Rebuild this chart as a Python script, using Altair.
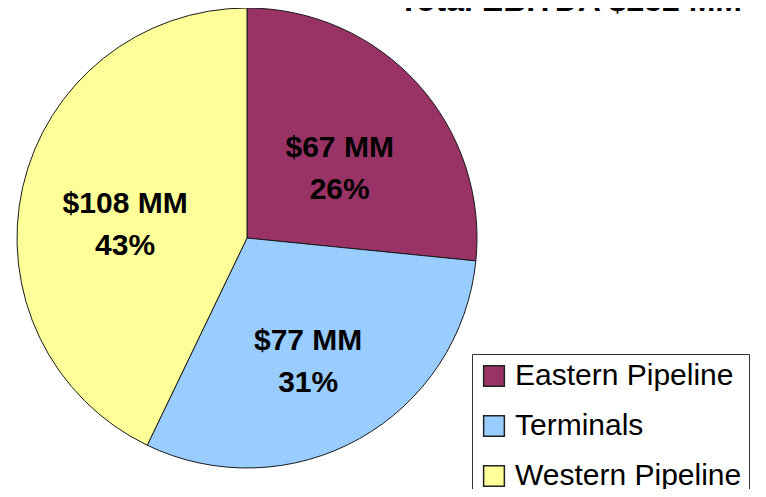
import altair as alt
import pandas as pd

segments = ["Eastern Pipeline", "Terminals", "Western Pipeline"]
ebitda_mm = [67, 77, 108]
percents = ["26%", "31%", "43%"]
colors = ["#993366", "#99CCFF", "#FFFF99"]
title_text = "Total EBITDA $252 MM"

df = pd.DataFrame({
    "segment": segments,
    "value": ebitda_mm,
    "order": list(range(len(segments))),
    "label": [f"${v} MM\n{p}" for v, p in zip(ebitda_mm, percents)],
})

cx, cy, R = 239, 230, 230

base = alt.Chart(df).encode(
    theta=alt.Theta("value:Q", stack=True),
    order=alt.Order("order:Q"),
    x=alt.value(cx),
    y=alt.value(cy),
)

arcs = base.mark_arc(radius=R, stroke="#1a1a1a", strokeWidth=1).encode(
    color=alt.Color(
        "segment:N",
        scale=alt.Scale(domain=segments, range=colors),
        legend=alt.Legend(
            title=None,
            orient="none",
            legendX=464,
            legendY=346,
            symbolType="square",
            symbolSize=430,
            symbolStrokeColor="#222222",
            symbolStrokeWidth=1.5,
            labelFont="Liberation Sans",
            labelFontSize=30,
            labelColor="black",
            labelOffset=6,
            rowPadding=20,
            padding=7,
            strokeColor="#333333",
            fillColor="white",
            labelLimit=400,
        ),
    )
)

labels = base.mark_text(
    radius=125,
    dy=-6,
    font="Liberation Sans",
    fontSize=30,
    fontWeight="bold",
    color="black",
    lineBreak="\n",
    lineHeight=42,
    align="center",
    baseline="middle",
).encode(text="label:N")

title = alt.Chart(pd.DataFrame({"t": [title_text]})).mark_text(
    font="Liberation Sans",
    fontSize=32,
    fontWeight="bold",
    color="black",
    align="right",
    baseline="alphabetic",
).encode(text="t:N", x=alt.value(734), y=alt.value(3))

chart = alt.layer(arcs, labels, title).properties(
    width=750,
    height=481,
    padding=0,
    autosize=alt.AutoSizeParams(type="none"),
).configure_view(stroke=None)

chart.save("out.html", embed_options={"renderer": "svg", "actions": False})
